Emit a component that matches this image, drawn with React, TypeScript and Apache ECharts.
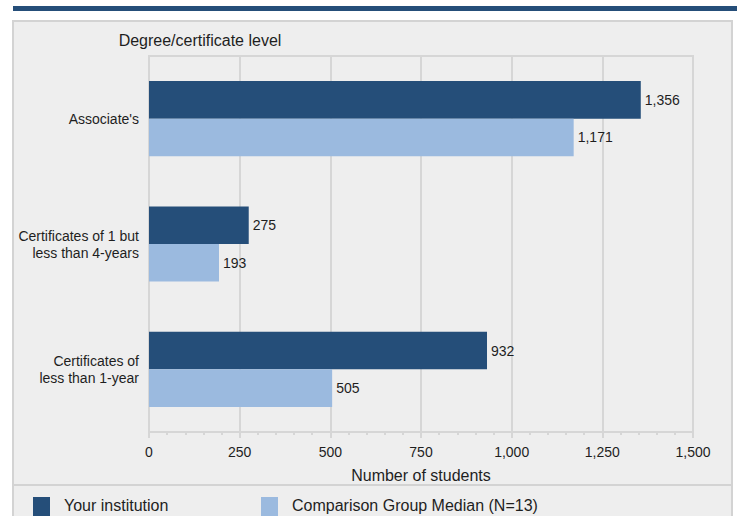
import React, { useEffect, useRef } from "react";
import * as echarts from "echarts";

const categories = [
  "Associate's",
  "Certificates of 1 but\nless than 4-years",
  "Certificates of\nless than 1-year",
];
const seriesNames = ["Your institution", "Comparison Group Median (N=13)"];
const yourInstitution = [1356, 275, 932];
const comparisonMedian = [1171, 193, 505];
const axisTicks = [0, 250, 500, 750, 1000, 1250, 1500];
const yAxisTitle = "Degree/certificate level";
const xAxisTitle = "Number of students";

const DARK = "#254e79";
const LIGHT = "#9bbadf";
const FONT = "'Liberation Sans', Arial, sans-serif";
const TEXT = "#1e1e1e";
const GRIDC = "#d6d6d6";

const fmt = (v: number) => v.toLocaleString("en-US");

export default function App() {
  const ref = useRef<HTMLDivElement>(null);
  useEffect(() => {
    if (!ref.current) return;
    const chart = echarts.init(ref.current, undefined, { renderer: "svg" });
    const legendItems = [
      { name: seriesNames[0], color: DARK, x: 33, tx: 64 },
      { name: seriesNames[1], color: LIGHT, x: 261, tx: 292 },
    ];
    chart.setOption({
      animation: false,
      backgroundColor: "#ffffff",
      textStyle: { fontFamily: FONT },
      graphic: [
        { type: "rect", z: -10, shape: { x: 13, y: 6, width: 724, height: 5 }, style: { fill: DARK } },
        {
          type: "rect",
          z: -10,
          shape: { x: 13, y: 21, width: 719, height: 520 },
          style: { fill: "#eeeeee", stroke: "#d3d3d3", lineWidth: 2 },
        },
        {
          type: "line",
          z: -9,
          shape: { x1: 13, y1: 485, x2: 732, y2: 485 },
          style: { stroke: "#d3d3d3", lineWidth: 2 },
        },
        {
          type: "text",
          x: 200,
          y: 40,
          style: {
            text: yAxisTitle,
            fontSize: 16,
            fontFamily: FONT,
            fill: TEXT,
            align: "center",
            verticalAlign: "middle",
          },
        },
        ...legendItems.flatMap((it) => [
          { type: "rect", shape: { x: it.x, y: 497, width: 17, height: 22 }, style: { fill: it.color } },
          {
            type: "text",
            x: it.tx,
            y: 505,
            style: {
              text: it.name,
              fontSize: 16,
              fontFamily: FONT,
              fill: TEXT,
              align: "left",
              verticalAlign: "middle",
            },
          },
        ]),
      ],
      grid: {
        left: 149,
        right: 44,
        top: 56,
        bottom: 84,
        show: true,
        borderColor: GRIDC,
        borderWidth: 2,
        backgroundColor: "transparent",
      },
      xAxis: {
        type: "value",
        min: axisTicks[0],
        max: axisTicks[axisTicks.length - 1],
        interval: axisTicks[1] - axisTicks[0],
        name: xAxisTitle,
        nameLocation: "middle",
        nameGap: 35,
        nameTextStyle: { fontSize: 16, color: TEXT, fontFamily: FONT },
        axisLine: { show: true, lineStyle: { color: GRIDC, width: 2 } },
        axisTick: { show: true, length: 6, lineStyle: { color: GRIDC, width: 2 } },
        minorTick: { show: true, splitNumber: 5, length: 3, lineStyle: { color: GRIDC, width: 2 } },
        splitLine: { show: true, lineStyle: { color: GRIDC, width: 2 } },
        axisLabel: {
          fontSize: 14,
          color: TEXT,
          margin: 13,
          fontFamily: FONT,
          formatter: (v: number) => fmt(v),
        },
      },
      yAxis: {
        type: "category",
        inverse: true,
        data: categories,
        axisLine: { show: false },
        axisTick: { show: false },
        splitLine: { show: false },
        axisLabel: {
          fontSize: 14,
          color: TEXT,
          margin: 10,
          lineHeight: 17,
          fontFamily: FONT,
          align: "right",
        },
      },
      series: [
        {
          name: seriesNames[0],
          type: "bar",
          data: yourInstitution,
          barGap: "0%",
          barCategoryGap: "40%",
          itemStyle: { color: DARK },
          label: {
            show: true,
            position: "right",
            distance: 4,
            fontSize: 14,
            color: TEXT,
            fontFamily: FONT,
            formatter: (p: any) => fmt(p.value),
          },
        },
        {
          name: seriesNames[1],
          type: "bar",
          data: comparisonMedian,
          barGap: "0%",
          barCategoryGap: "40%",
          itemStyle: { color: LIGHT },
          label: {
            show: true,
            position: "right",
            distance: 4,
            fontSize: 14,
            color: TEXT,
            fontFamily: FONT,
            formatter: (p: any) => fmt(p.value),
          },
        },
      ],
    });
    return () => chart.dispose();
  }, []);
  return (
    <div
      ref={ref}
      style={{ position: "fixed", left: 0, top: 0, width: 737, height: 516 }}
    />
  );
}
